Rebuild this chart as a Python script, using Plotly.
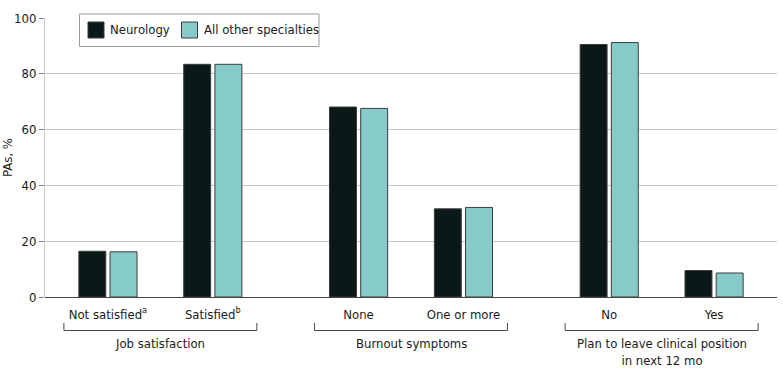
import plotly.graph_objects as go

# ---- data ----
categories = ["Not satisfied<sup>a</sup>", "Satisfied<sup>b</sup>", "None", "One or more", "No", "Yes"]
positions = [0, 1, 2.39, 3.39, 4.78, 5.78]
groups = ["Job satisfaction", "Burnout symptoms", "Plan to leave clinical position<br>in next 12 mo"]
group_members = [(0, 1), (2, 3), (4, 5)]
series_names = ["Neurology", "All other specialties"]
neurology = [16.4, 83.4, 68.1, 31.6, 90.5, 9.5]
other = [16.2, 83.4, 67.6, 32.1, 91.2, 8.6]
y_ticks = [0, 20, 40, 60, 80, 100]

colors = ["#0a1818", "#86cbc9"]
FONT = "DejaVu Sans Condensed, Liberation Sans Narrow, sans-serif"
FS = 13

W, H = 783, 379
ML, MR, MT, MB = 45, 6, 18, 82
XR = [-0.6, 6.38]
plot_w = W - ML - MR
plot_h = H - MT - MB

def x2paper(x):
    return (x - XR[0]) / (XR[1] - XR[0])

def px2paper_x(px):
    return (px - ML) / plot_w

def py2paper_y(py):
    return (H - MB - py) / plot_h

fig = go.Figure()
for name, vals, c in zip(series_names, [neurology, other], colors):
    fig.add_trace(go.Bar(
        x=positions, y=vals, name=name,
        marker=dict(color=c, line=dict(color="#3c3c3c", width=1)),
        showlegend=False,
    ))

shapes = []
annotations = []
# group brackets
yb = py2paper_y(330.5)
yt = py2paper_y(323)
for (a, b), label in zip(group_members, groups):
    x0 = x2paper(positions[a] - 0.42)
    x1 = x2paper(positions[b] + 0.42)
    line = dict(color="#4a4a4a", width=1)
    shapes.append(dict(type="line", xref="paper", yref="paper", x0=x0, x1=x1, y0=yb, y1=yb, line=line))
    shapes.append(dict(type="line", xref="paper", yref="paper", x0=x0, x1=x0, y0=yb, y1=yt, line=line))
    shapes.append(dict(type="line", xref="paper", yref="paper", x0=x1, x1=x1, y0=yb, y1=yt, line=line))
    annotations.append(dict(text=label, xref="paper", yref="paper", x=(x0 + x1) / 2,
                            y=py2paper_y(334), xanchor="center", yanchor="top", showarrow=False,
                            font=dict(size=FS, color="#1a1a1a", family=FONT)))

# custom legend
shapes.append(dict(type="rect", xref="paper", yref="paper",
                   x0=px2paper_x(79.5), x1=px2paper_x(319), y0=py2paper_y(46.5), y1=py2paper_y(14),
                   fillcolor="white", line=dict(color="#9a9a9a", width=1), layer="above"))
sw_x = [88, 181.5]
tx_x = [108, 202]
for name, c, sx, tx in zip(series_names, colors, sw_x, tx_x):
    shapes.append(dict(type="rect", xref="paper", yref="paper",
                       x0=px2paper_x(sx), x1=px2paper_x(sx + 16), y0=py2paper_y(38), y1=py2paper_y(22),
                       fillcolor=c, line=dict(color="#3c3c3c", width=1), layer="above"))
    annotations.append(dict(text=name, xref="paper", yref="paper", x=px2paper_x(tx), y=py2paper_y(30),
                            xanchor="left", yanchor="middle", showarrow=False,
                            font=dict(size=FS, color="#1a1a1a", family=FONT)))

fig.update_layout(
    width=W, height=H,
    margin=dict(l=ML, r=MR, t=MT, b=MB, autoexpand=False),
    paper_bgcolor="white", plot_bgcolor="white",
    barmode="group", bargap=0.405, bargroupgap=0.136,
    font=dict(family=FONT, size=FS, color="#1a1a1a"),
    shapes=shapes, annotations=annotations,
    xaxis=dict(range=XR, tickvals=positions, ticktext=categories, showgrid=False,
               showline=False, ticks="outside", ticklen=5, tickcolor="rgba(0,0,0,0)",
               zeroline=False, tickfont=dict(size=FS), automargin=False),
    yaxis=dict(range=[0, 100], tickvals=y_ticks, showgrid=True, gridcolor="#c8c8c8", gridwidth=1,
               showline=True, linecolor="#c8c8c8", linewidth=1,
               ticks="outside", ticklen=5, tickcolor="#888888",
               zeroline=True, zerolinecolor="#444444", zerolinewidth=1.2,
               tickfont=dict(size=FS), automargin=False,
               title=dict(text="PAs, %", font=dict(size=FS), standoff=0)),
)

fig.write_html("out.html")
